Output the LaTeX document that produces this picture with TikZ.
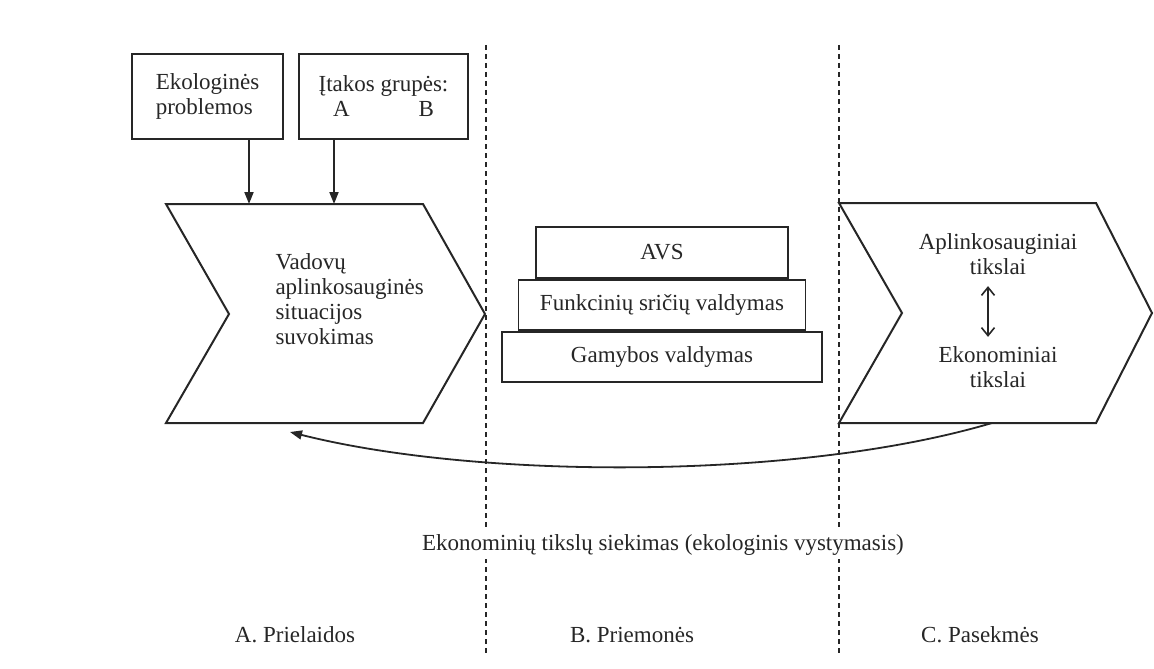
\documentclass[tikz,border=0pt]{standalone}
\usepackage{fontspec}
\setmainfont{Liberation Serif}
\usetikzlibrary{arrows.meta,positioning}
\tikzset{
  box/.style={draw, line width=1.8pt, inner sep=0pt},
  arr/.style={-{Triangle[length=12pt,width=9pt]}, line width=1.8pt},
  dbl/.style={{Straight Barb[length=8pt,width=13pt]}-{Straight Barb[length=8pt,width=13pt]}, line width=1.6pt},
  divider/.style={dash pattern=on 5pt off 4pt, line width=1.6pt},
  chev/.style={line width=2pt, line join=miter},
}

\begin{document}
\begin{tikzpicture}[x=1pt,y=-1pt,font=\fontsize{23}{25}\selectfont,color=black!85]
\useasboundingbox (0,0) rectangle (1154,669);
% dividers
\draw[divider] (486,45) -- (486,655);
\draw[divider] (839,45) -- (839,655);

% top boxes
\node[box, minimum width=151pt, minimum height=85pt, align=left] (eko) at (207.5,96.5) {Ekologinės\\problemos};
\node[box, minimum width=169pt, minimum height=85pt, align=center] (itak) at (383.5,96.5) {Įtakos grupės:\\A\hspace{3em}B};

% chevrons
\draw[chev, fill=white] (166,204) -- (423,204) -- (485,314) -- (423,423) -- (166,423) -- (229,314) -- cycle;
\draw[chev, fill=white] (839,203) -- (1096,203) -- (1152,313) -- (1096,423) -- (839,423) -- (902,313) -- cycle;
\coordinate (in1) at (249,204);
\coordinate (in2) at (334,204);
\draw[arr] (eko.south -| in1) -- (in1);
\draw[arr] (itak.south -| in2) -- (in2);

\node[align=left, anchor=west] (vad) at (272,299) {Vadovų\\aplinkosauginės\\situacijos\\suvokimas};

% stacked boxes
\node[box, minimum width=252pt, minimum height=51pt] (avs) at (662,252.5) {AVS};
\node[box, minimum width=287pt, minimum height=50pt, below=0pt of avs] (func) {Funkcinių sričių valdymas};
\node[box, minimum width=320pt, minimum height=50pt, below=0pt of func] (gam) {Gamybos valdymas};

% goals
\node[align=center] (aplt) at (998,254) {Aplinkosauginiai\\tikslai};
\node[align=center] (ekot) at (998,367) {Ekonominiai\\tikslai};
\draw[dbl, shorten <=8pt, shorten >=6pt] ([xshift=-10pt]aplt.south) -- ([xshift=-10pt]ekot.north);

% feedback
\coordinate (fb) at (992,423);
\coordinate (vadin) at (290,432);
\draw[arr] (fb) .. controls (800,480) and (480,480) .. (vadin);
\node[fill=white, inner sep=4pt] (siek) at (663,545) {Ekonominių tikslų siekimas (ekologinis vystymasis)};

% stages
\node (pri) at (295,635) {A. Prielaidos};
\node (prm) at (632,635) {B. Priemonės};
\node (pas) at (980,635) {C. Pasekmės};
\end{tikzpicture}
\end{document}
